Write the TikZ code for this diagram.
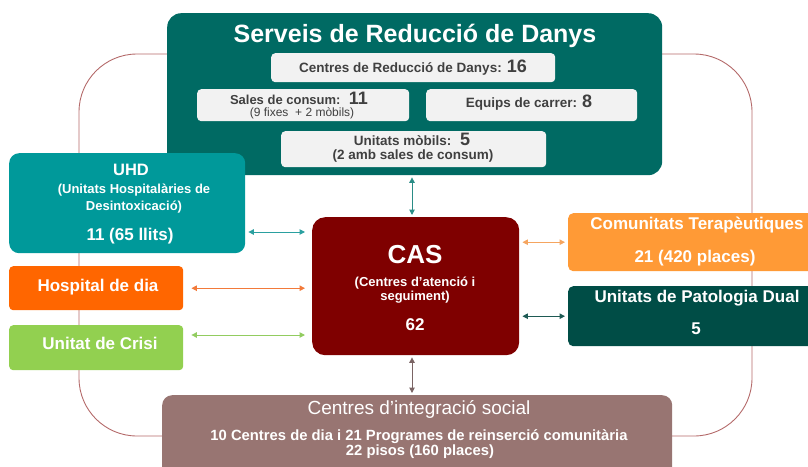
\documentclass[tikz,border=0pt]{standalone}
\usepackage{fontspec}
\setmainfont{Liberation Sans}
\usetikzlibrary{arrows.meta}
\definecolor{srdc}{HTML}{006A63}
\definecolor{uhdc}{HTML}{00999A}
\definecolor{hospc}{HTML}{FF6600}
\definecolor{crisc}{HTML}{92D050}
\definecolor{casc}{HTML}{7F0000}
\definecolor{ctc}{HTML}{FF9A36}
\definecolor{dualc}{HTML}{004D46}
\definecolor{cisc}{HTML}{987572}
\definecolor{subc}{HTML}{F2F2F2}
\definecolor{subtxt}{HTML}{404040}
\definecolor{framec}{HTML}{B46A6A}
\definecolor{a1}{HTML}{2A8C86}
\definecolor{a2}{HTML}{2AA0A0}
\definecolor{a3}{HTML}{F27A3A}
\definecolor{a4}{HTML}{92CC60}
\definecolor{a5}{HTML}{F5A560}
\definecolor{a6}{HTML}{1E5A54}
\definecolor{a7}{HTML}{7A6464}
\newcommand{\fs}[1]{\fontsize{#1}{#1}\selectfont}
\begin{document}
\begin{tikzpicture}[x=1pt,y=-1pt,
  box/.style={draw=none, inner sep=0pt, anchor=north west},
  subbox/.style={box, fill=subc, rounded corners=4pt},
  wt/.style={anchor=base, text=white, font=\bfseries, inner sep=0pt},
  gt/.style={anchor=base, text=subtxt, font=\bfseries, inner sep=0pt},
  arr/.style={line width=1pt, {Triangle[length=5.5pt,width=5.5pt]}-{Triangle[length=5.5pt,width=5.5pt]}},
  framestyle/.style={draw=framec, line width=0.9pt, rounded corners=58pt}]
\useasboundingbox (0,0) rectangle (808,466);
\clip (0,0) rectangle (808,466);
% background frame
\draw[framestyle] (79,54) rectangle (752,436);
% top box
\node[box, fill=srdc, rounded corners=14pt, minimum width=495pt, minimum height=162pt] (srd) at (167,13) {};
\node[wt, font=\bfseries\fs{25}] (srdt) at (415,42) {Serveis de Reducció de Danys};
\node[subbox, minimum width=284pt, minimum height=29pt] (crd) at (271,53) {};
\node[gt, font=\bfseries\fs{13.5}] (crdt) at (413,72) {Centres de Reducció de Danys: {\fs{18}16}};
\node[subbox, minimum width=212pt, minimum height=32pt] (sc) at (197,89) {};
\node[gt, font=\bfseries\fs{13}] (sct) at (299,104) {Sales de consum:\; {\fs{18}11}};
\node[anchor=base, text=subtxt, inner sep=0pt, font=\fs{12}] (sct2) at (302,116) {(9 fixes\; + 2 mòbils)};
\node[subbox, minimum width=211pt, minimum height=32pt] (ec) at (426,89) {};
\node[gt, font=\bfseries\fs{13.5}] (ect) at (529,107) {Equips de carrer: {\fs{18}8}};
\node[subbox, minimum width=265pt, minimum height=36pt] (um) at (281,131) {};
\node[gt, font=\bfseries\fs{13.5}] (umt) at (412,145) {Unitats mòbils:\; {\fs{18}5}};
\node[gt, font=\bfseries\fs{13.5}] (umt2) at (413,159) {(2 amb sales de consum)};
% left boxes
\node[box, fill=uhdc, rounded corners=10pt, minimum width=236pt, minimum height=100pt] (uhd) at (9,153) {};
\node[wt, font=\bfseries\fs{16.5}] (uhdt1) at (131,175) {UHD};
\node[wt, font=\bfseries\fs{13}] (uhdt2) at (134,193) {(Unitats Hospitalàries de};
\node[wt, font=\bfseries\fs{13}] (uhdt3) at (134,210) {Desintoxicació)};
\node[wt, font=\bfseries\fs{17}] (uhdt4) at (130,240) {11 (65 llits)};
\node[box, fill=hospc, rounded corners=4pt, minimum width=174pt, minimum height=44pt] (hosp) at (9,266) {};
\node[wt, font=\bfseries\fs{17}] (hospt) at (98,291) {Hospital de dia};
\node[box, fill=crisc, rounded corners=4pt, minimum width=174pt, minimum height=45pt] (cris) at (9,325) {};
\node[wt, font=\bfseries\fs{17}] (crist) at (100,349) {Unitat de Crisi};
% CAS
\node[box, fill=casc, rounded corners=13pt, minimum width=207pt, minimum height=138pt] (cas) at (312,217) {};
\node[wt, font=\bfseries\fs{26}] (cast1) at (415,263) {CAS};
\node[wt, font=\bfseries\fs{13}] (cast2) at (415,286) {(Centres d’atenció i};
\node[wt, font=\bfseries\fs{13}] (cast3) at (415,300) {seguiment)};
\node[wt, font=\bfseries\fs{17}] (cast4) at (415,330) {62};
% right boxes
\node[box, fill=ctc, rounded corners=5pt, minimum width=260pt, minimum height=58pt] (ct) at (568,213) {};
\node[wt, font=\bfseries\fs{17}] (ctt1) at (697,229) {Comunitats Terapèutiques};
\node[wt, font=\bfseries\fs{17}] (ctt2) at (695,262) {21 (420 places)};
\node[box, fill=dualc, rounded corners=5pt, minimum width=260pt, minimum height=60pt] (dual) at (568,286) {};
\node[wt, font=\bfseries\fs{17}] (dualt1) at (697,302) {Unitats de Patologia Dual};
\node[wt, font=\bfseries\fs{17}] (dualt2) at (696,334) {5};
% bottom box
\node[box, fill=cisc, rounded corners=10pt, minimum width=510pt, minimum height=90pt] (cis) at (162,395) {};
\node[anchor=base, text=white, inner sep=0pt, font=\fs{19}] (cist1) at (419,414) {Centres d’integració social};
\node[wt, font=\bfseries\fs{14.8}] (cist2) at (419,440) {10 Centres de dia i 21 Programes de reinserció comunitària};
\node[wt, font=\bfseries\fs{14.8}] (cist3) at (420,455) {22 pisos (160 places)};
% connectors
\coordinate (xv) at (412,0);
\coordinate (yuhd) at (0,232);
\coordinate (ycr) at (0,335);
\draw[arr, a1, shorten <=2pt, shorten >=2pt] (srd.south -| xv) -- (cas.north -| xv);
\draw[arr, a7, shorten <=2pt, shorten >=2pt] (cas.south -| xv) -- (cis.north -| xv);
\draw[arr, a2, shorten <=3pt, shorten >=7pt] (uhd.east |- yuhd) -- (cas.west |- yuhd);
\draw[arr, a3, shorten <=8pt, shorten >=7pt] (hosp.east) -- (cas.west |- hosp.east);
\draw[arr, a4, shorten <=8pt, shorten >=7pt] (cris.east |- ycr) -- (cas.west |- ycr);
\draw[arr, a5, shorten <=3pt, shorten >=3pt] (cas.east |- ct.west) -- (ct.west);
\draw[arr, a6, shorten <=3pt, shorten >=3pt] (cas.east |- dual.west) -- (dual.west);
\end{tikzpicture}
\end{document}
